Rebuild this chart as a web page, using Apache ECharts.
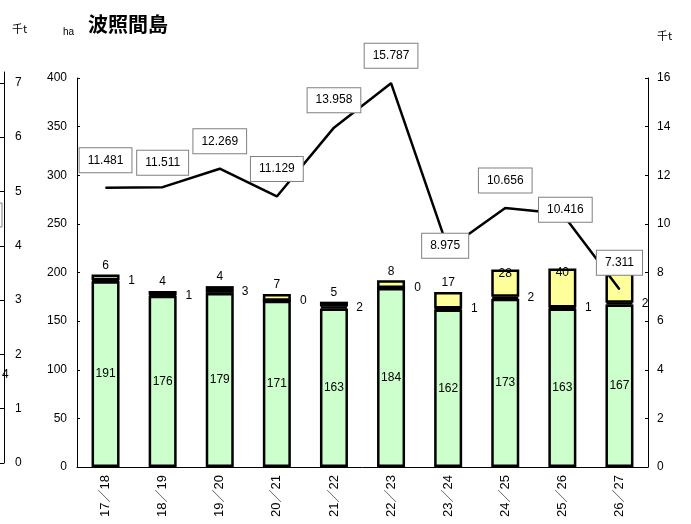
<!DOCTYPE html>
<html>
<head>
<meta charset="utf-8">
<script src="https://cdn.jsdelivr.net/npm/echarts@6/dist/echarts.min.js"></script>
<style>
  html, body { margin: 0; padding: 0; background: #fff; }
  #chart { width: 691px; height: 524px; }
</style>
</head>
<body>
<div id="chart"></div>
<script>
// ---- data ----
const categories = ['17／18', '18／19', '19／20', '20／21', '21／22', '22／23', '23／24', '24／25', '25／26', '26／27'];
const greenValues = [191, 176, 179, 171, 163, 184, 162, 173, 163, 167];
const blackValues = [1, 1, 3, 0, 2, 0, 1, 2, 1, 2];
const yellowValues = [6, 4, 4, 7, 5, 8, 17, 28, 40, 41];
const lineValues = [11.481, 11.511, 12.269, 11.129, 13.958, 15.787, 8.975, 10.656, 10.416, 7.311];
const farLeftTicks = [0, 1, 2, 3, 4, 5, 6, 7];

// ---- label layout (style only) ----
const lineLabelLayout = [
  { position: 'top', distance: 15 },
  { position: 'top', distance: 12 },
  { position: 'top', distance: 15 },
  { position: 'top', distance: 15 },
  { position: 'top', distance: 15 },
  { position: 'top', distance: 15 },
  { position: 'inside', offset: [-3, -3] },
  { position: 'top', distance: 15 },
  { position: 'inside', offset: [3, -4] },
  { position: 'top', distance: 14 }
];

const FONT = '"Liberation Sans", "Noto Sans CJK JP", sans-serif';

const chart = echarts.init(document.getElementById('chart'), null, { renderer: 'canvas' });

const yellowData = yellowValues.map(v => ({
  value: v,
  label: v >= 25 ? { position: 'insideTop', distance: -2 } : { position: 'top', distance: 3 }
}));

const lineData = lineValues.map((v, i) => ({
  value: v,
  label: Object.assign({}, lineLabelLayout[i])
}));

const option = {
  animation: false,
  textStyle: { fontFamily: FONT },
  title: {
    text: '波照間島',
    left: 83,
    top: 9,
    textStyle: { fontFamily: '"Noto Sans CJK JP", sans-serif', fontSize: 20, fontWeight: 'bold', color: '#000' }
  },
  grid: [
    { left: 77, right: 43, top: 78, bottom: 57 },
    { left: 4, width: 1, top: 72, bottom: 61 }
  ],
  xAxis: [
    {
      type: 'category',
      gridIndex: 0,
      data: categories,
      axisLine: { lineStyle: { color: '#000', width: 1 } },
      axisTick: { inside: true, length: 4, lineStyle: { color: '#000' } },
      axisLabel: { rotate: 90, color: '#000', fontSize: 13, margin: 8, fontFamily: FONT }
    },
    { type: 'value', gridIndex: 1, show: false }
  ],
  yAxis: [
    {
      type: 'value', gridIndex: 0, min: 0, max: 400, interval: 50,
      axisLine: { show: true, lineStyle: { color: '#000' } },
      axisTick: { show: true, inside: true, length: 3, lineStyle: { color: '#000' } },
      axisLabel: { color: '#000', fontSize: 12, margin: 10 },
      splitLine: { show: false }
    },
    {
      type: 'value', gridIndex: 0, position: 'right', min: 0, max: 16, interval: 2,
      axisLine: { show: true, lineStyle: { color: '#000' } },
      axisTick: { show: true, inside: true, length: 3, lineStyle: { color: '#000' } },
      axisLabel: { color: '#000', fontSize: 12, margin: 9 },
      splitLine: { show: false }
    },
    {
      type: 'value', gridIndex: 1, position: 'left', min: 0, max: 7.2, interval: 1,
      axisLine: { show: true, lineStyle: { color: '#000' } },
      axisTick: { show: true, inside: false, length: 4, lineStyle: { color: '#000' }, customValues: farLeftTicks },
      axisLabel: {
        inside: true, color: '#000', fontSize: 12, margin: 11, showMaxLabel: true,
        customValues: farLeftTicks,
        formatter: v => (Number.isInteger(v) ? String(v) : '')
      },
      splitLine: { show: false }
    }
  ],
  series: [
    {
      type: 'bar', stack: 's', xAxisIndex: 0, yAxisIndex: 0, barWidth: 28,
      data: greenValues,
      itemStyle: { color: '#CCFFCC', borderColor: '#000', borderWidth: 2.5 },
      label: { show: true, position: 'inside', color: '#000', fontSize: 12 }
    },
    {
      type: 'bar', stack: 's', xAxisIndex: 0, yAxisIndex: 0, barWidth: 28,
      data: blackValues,
      itemStyle: { color: '#000', borderColor: '#000', borderWidth: 2.5 },
      label: { show: true, position: 'right', distance: 8, color: '#000', fontSize: 12 }
    },
    {
      type: 'bar', stack: 's', xAxisIndex: 0, yAxisIndex: 0, barWidth: 28,
      data: yellowData,
      itemStyle: { color: '#FFFF99', borderColor: '#000', borderWidth: 2.5 },
      label: { show: true, color: '#000', fontSize: 12 }
    },
    {
      type: 'line', xAxisIndex: 0, yAxisIndex: 1, z: 5,
      data: lineData,
      symbol: 'circle', symbolSize: 1, showSymbol: true,
      itemStyle: { color: '#000' },
      lineStyle: { color: '#000', width: 2.5 },
      label: {
        show: true, color: '#000', fontSize: 12,
        backgroundColor: '#fff', borderColor: '#808080', borderWidth: 1,
        padding: [6, 8],
        formatter: p => p.value.toFixed(3)
      }
    }
  ],
  graphic: [
    { type: 'text', left: 12, top: 23, style: { text: '千t', fontSize: 11, fill: '#000', fontFamily: '"Noto Sans CJK JP", sans-serif' } },
    { type: 'text', left: 63, top: 27, style: { text: 'ha', fontSize: 10, fill: '#000', fontFamily: FONT } },
    { type: 'text', left: 657, top: 30, style: { text: '千t', fontSize: 11, fill: '#000', fontFamily: '"Noto Sans CJK JP", sans-serif' } },
    { type: 'text', left: 2, top: 369, style: { text: '4', fontSize: 12, fill: '#000', fontFamily: FONT } },
    { type: 'rect', shape: { x: -50, y: 203, width: 52, height: 24 }, style: { fill: 'none', stroke: '#808080', lineWidth: 1 } }
  ]
};

chart.setOption(option);
</script>
</body>
</html>
